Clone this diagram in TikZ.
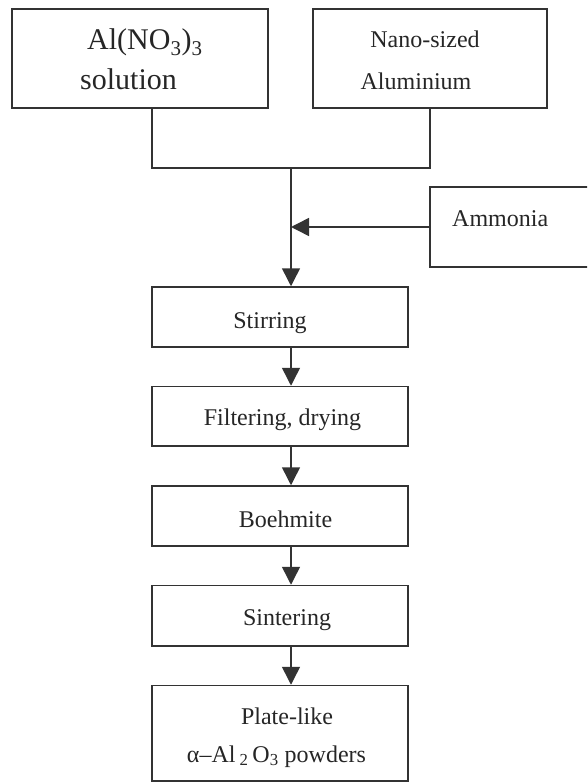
\documentclass[tikz,border=0pt]{standalone}
\usepackage{fontspec}
\setmainfont{Liberation Serif}
\usetikzlibrary{arrows.meta}
\begin{document}
\begin{tikzpicture}[x=1pt,y=-1pt,
  box/.style={draw=black!80, line width=1.5pt, rectangle, inner sep=0pt},
  conn/.style={draw=black!80, line width=1.5pt},
  arr/.style={conn, -{Triangle[width=18pt,length=18pt]}},
  txt/.style={anchor=base, inner sep=0pt, font=\fontsize{24}{24}\selectfont, text=black!85},
  bigtxt/.style={txt, font=\fontsize{30}{30}\selectfont}]
\useasboundingbox (0,0) rectangle (587,783);
\clip (0,0) rectangle (587,783);
\fill[white] (0,0) rectangle (587,783);

% top input boxes
\node[box, minimum width=256pt, minimum height=99pt] (aln) at (140,58.5) {};
\node[bigtxt, anchor=base west] (alnA) at (87,50) {Al(NO\textsubscript{3})\textsubscript{3}};
\node[bigtxt, anchor=base west] (alnB) at (80,90) {solution};

\node[box, minimum width=234pt, minimum height=99pt] (nano) at (430,58.5) {};
\node[txt] (nanoA) at (425,48) {Nano-sized};
\node[txt] (nanoB) at (416,90) {Aluminium};

% ammonia box (cut by right edge)
\node[box, minimum width=170pt, minimum height=80pt] (amm) at (515,227) {};
\node[txt, anchor=base west] (ammT) at (452,227) {Ammonia};

% process boxes
\node[box, minimum width=256pt, minimum height=60pt] (stir) at (280,317) {};
\node[txt] (stirT) at (270,328) {Stirring};
\node[box, minimum width=256pt, minimum height=59.5pt] (filt) at (280,416.25) {};
\node[txt] (filtT) at (282.5,425.5) {Filtering, drying};
\node[box, minimum width=256pt, minimum height=60pt] (boeh) at (280,516) {};
\node[txt] (boehT) at (285.5,527) {Boehmite};
\node[box, minimum width=256pt, minimum height=60.5pt] (sint) at (280,615.75) {};
\node[txt] (sintT) at (287,625) {Sintering};
\node[box, minimum width=256pt, minimum height=95.5pt] (plate) at (280,733.25) {};
\node[txt] (plateA) at (287,724) {Plate-like};
\node[txt] (plateB) at (276.5,762) {α–Al\,\textsubscript{2}\,O\textsubscript{3} powders};

% junction
\coordinate (jL) at (152,168);
\coordinate (jR) at (430,168);
\coordinate (jC) at (291,168);
\draw[conn] (aln.south -| jL) -- (jL) -- (jR) -- (nano.south -| jR);
\draw[arr] (jC) -- (stir.north -| jC);
\draw[arr] (amm.west) -- (amm.west -| jC);

% process arrows
\draw[arr] (stir.south -| jC) -- (filt.north -| jC);
\draw[arr] (filt.south -| jC) -- (boeh.north -| jC);
\draw[arr] (boeh.south -| jC) -- (sint.north -| jC);
\draw[arr] (sint.south -| jC) -- (plate.north -| jC);
\end{tikzpicture}
\end{document}
